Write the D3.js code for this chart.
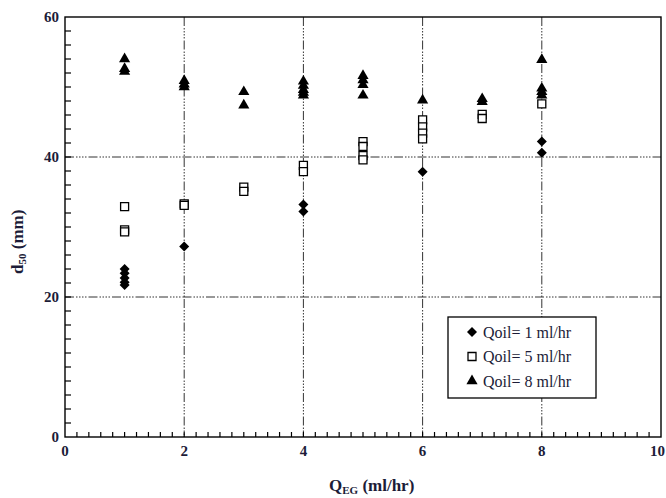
<!DOCTYPE html>
<html>
<head>
<meta charset="utf-8">
<script src="https://cdn.jsdelivr.net/npm/d3@7"></script>
<style>
  html, body { margin: 0; padding: 0; background: #fff; }
  svg { display: block; }
  .tick-label { font-family: "Liberation Serif", "Times New Roman", serif; font-weight: bold; font-size: 15px; fill: #1c1c38; }
  .axis-title { font-family: "Liberation Serif", "Times New Roman", serif; font-weight: bold; font-size: 17px; fill: #1c1c38; }
  .legend-text { font-family: "Liberation Serif", "Times New Roman", serif; font-size: 16px; fill: #1c1c38; }
</style>
</head>
<body>
<svg id="chart" width="666" height="498"></svg>
<script>
(function () {
  "use strict";

  // d50 (mm) readings per Q_EG (ml/hr), one array per oil flow rate
  const oil1 = [
    [1, 24.0], [1, 23.4], [1, 22.7], [1, 22.1], [1, 21.7],
    [2, 27.2],
    [4, 33.2], [4, 32.2],
    [6, 37.9],
    [8, 42.2], [8, 40.6]
  ];
  const oil5 = [
    [1, 32.9], [1, 29.6], [1, 29.3],
    [2, 33.3], [2, 33.1],
    [3, 35.7], [3, 35.1],
    [4, 38.8], [4, 37.9],
    [5, 42.2], [5, 41.5], [5, 40.2], [5, 39.6],
    [6, 45.3], [6, 44.3], [6, 43.4], [6, 42.6],
    [7, 46.1], [7, 45.5],
    [8, 47.6]
  ];
  const oil8 = [
    [1, 54.0], [1, 52.6], [1, 52.2],
    [2, 50.9], [2, 50.4], [2, 50.0],
    [3, 49.3], [3, 47.4],
    [4, 50.8], [4, 50.2], [4, 49.6], [4, 49.2], [4, 48.8],
    [5, 51.6], [5, 51.0], [5, 50.3], [5, 48.8],
    [6, 48.1],
    [7, 48.3], [7, 47.9],
    [8, 53.9], [8, 49.8], [8, 49.3], [8, 48.8]
  ];
  const xTicks = [0, 2, 4, 6, 8, 10];
  const yTicks = [0, 20, 40, 60];
  const legendLabels = ["Qoil= 1 ml/hr", "Qoil= 5 ml/hr", "Qoil= 8 ml/hr"];

  const svg = d3.select("#chart");
  const left = 65, right = 661, top = 17, bottom = 437;

  const x = d3.scaleLinear().domain([0, 10]).range([left, right]);
  const y = d3.scaleLinear().domain([0, 60]).range([bottom, top]);

  const dash = "9,2,1.5,1.5,1.5,1.5,1.5,1.5,1.5,2";

  // grid lines at the inner major ticks
  const grid = svg.append("g").attr("stroke", "#333").attr("stroke-width", 1).attr("stroke-dasharray", dash);
  grid.selectAll("line.gx")
    .data(xTicks.filter((t) => t > 0 && t < 10))
    .join("line")
    .attr("x1", (d) => x(d)).attr("x2", (d) => x(d))
    .attr("y1", top).attr("y2", bottom);
  grid.selectAll("line.gy")
    .data(yTicks.filter((t) => t > 0 && t < 60))
    .join("line")
    .attr("y1", (d) => y(d)).attr("y2", (d) => y(d))
    .attr("x1", left).attr("x2", right);

  // inward minor ticks on left and bottom
  const ticks = svg.append("g").attr("stroke", "#000").attr("stroke-width", 1.2);
  ticks.selectAll("line.ty")
    .data(d3.range(2, 60, 2))
    .join("line")
    .attr("x1", left).attr("x2", left + 6)
    .attr("y1", (d) => y(d)).attr("y2", (d) => y(d));
  ticks.selectAll("line.tx")
    .data(d3.range(1, 50).map((i) => i * 0.2))
    .join("line")
    .attr("y1", bottom).attr("y2", bottom - 5)
    .attr("x1", (d) => x(d)).attr("x2", (d) => x(d));

  svg.append("rect")
    .attr("x", left).attr("y", top)
    .attr("width", right - left).attr("height", bottom - top)
    .attr("fill", "none").attr("stroke", "#000").attr("stroke-width", 1.4);

  svg.append("g").selectAll("text")
    .data(yTicks)
    .join("text")
    .attr("class", "tick-label")
    .attr("x", left - 6).attr("y", (d) => y(d))
    .attr("dy", "0.35em").attr("text-anchor", "end")
    .text((d) => d);

  // the last label sits on the window edge, so keep it inside
  svg.append("g").selectAll("text")
    .data(xTicks)
    .join("text")
    .attr("class", "tick-label")
    .attr("x", (d) => (d === 10 ? 665 : x(d))).attr("y", 456)
    .attr("text-anchor", (d) => (d === 10 ? "end" : "middle"))
    .text((d) => d);

  const xt = svg.append("text").attr("class", "axis-title").attr("x", 329).attr("y", 491);
  xt.append("tspan").text("Q");
  xt.append("tspan").attr("font-size", "11px").attr("dy", 3).text("EG");
  xt.append("tspan").attr("dy", -3).text(" (ml/hr)");

  const yt = svg.append("text").attr("class", "axis-title")
    .attr("transform", "translate(23,274) rotate(-90)");
  yt.append("tspan").text("d");
  yt.append("tspan").attr("font-size", "11px").attr("dy", 3).text("50");
  yt.append("tspan").attr("dy", -3).text(" (mm)");

  // markers
  const tri = d3.symbol().type(d3.symbolTriangle).size(54);
  const sq = d3.symbol().type(d3.symbolSquare).size(64);
  const dia = d3.symbol().type(d3.symbolSquare).size(50);

  const marks = [
    { data: oil8, path: tri(), fill: "#000", stroke: "none", rot: 0 },
    { data: oil5, path: sq(), fill: "#fff", stroke: "#000", rot: 0 },
    { data: oil1, path: dia(), fill: "#000", stroke: "none", rot: 45 }
  ];
  marks.forEach((m) => {
    svg.append("g").selectAll("path")
      .data(m.data)
      .join("path")
      .attr("d", m.path)
      .attr("fill", m.fill)
      .attr("stroke", m.stroke)
      .attr("stroke-width", 1.3)
      .attr("transform", (d) => `translate(${x(d[0])},${y(d[1])}) rotate(${m.rot})`);
  });

  // legend
  const lg = svg.append("g");
  lg.append("rect")
    .attr("x", 448).attr("y", 317).attr("width", 148).attr("height", 81)
    .attr("fill", "#fff").attr("stroke", "#000").attr("stroke-width", 1.3);
  const legendMarks = [marks[2], marks[1], marks[0]];
  legendLabels.forEach((label, i) => {
    const cy = 332 + i * 24.5;
    const m = legendMarks[i];
    lg.append("path")
      .attr("d", m.path)
      .attr("fill", m.fill).attr("stroke", m.stroke).attr("stroke-width", 1.3)
      .attr("transform", `translate(472,${cy}) rotate(${m.rot})`);
    lg.append("text").attr("class", "legend-text")
      .attr("x", 483).attr("y", cy).attr("dy", "0.35em")
      .text(label);
  });
})();
</script>
</body>
</html>
